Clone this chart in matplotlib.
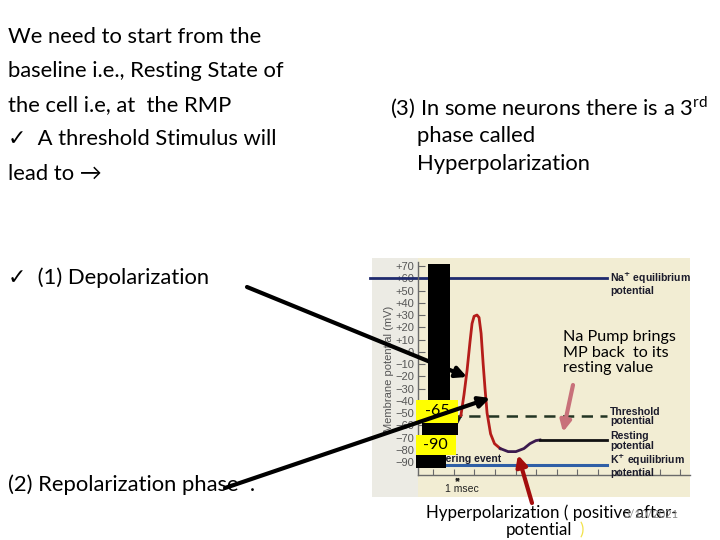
import matplotlib
matplotlib.use("Agg")
import matplotlib.pyplot as plt
from matplotlib.patches import Rectangle, FancyArrowPatch

# ---------------- data ----------------
yticks_mv = [70, 60, 50, 40, 30, 20, 10, 0, -10, -20, -30, -40, -50, -60, -70, -80, -90]
ytick_labels = ["+70", "+60", "+50", "+40", "+30", "+20", "+10", "0", "\u221210", "\u221220",
                "\u221230", "\u221240", "\u221250", "\u221260", "\u221270", "\u221280", "\u221290"]
xticks_ms = list(range(1, 14))

# action potential trace (time in ms, potential in mV)
pre_t = [1.24, 1.63, 1.92, 2.16, 2.35]
pre_v = [-72, -70, -65, -58, -52]
spike_t = [2.35, 2.50, 2.65, 2.79, 2.89, 2.99, 3.13, 3.23, 3.33, 3.43, 3.52, 3.62, 3.79, 3.98, 4.26]
spike_v = [-52, -35, -15, 8, 23, 29, 30, 28, 15, -10, -30, -50, -67, -75, -79]
hyper_t = [4.26, 4.64, 5.02, 5.41, 5.70, 5.99, 6.19]
hyper_v = [-79, -81.5, -81.5, -79, -75, -72.5, -72]
rest_t = [6.19, 9.44]
rest_v = [-72, -72]

na_eq = 60.2
k_eq = -92.4
threshold = -52.4
na_span = [-2.05, 9.44]
k_span = [1.3, 9.44]
thr_span = [1.8, 9.44]

left_lines = ["We need to start from the",
              "baseline i.e., Resting State of",
              "the cell i.e, at  the RMP",
              "\u2713  A threshold Stimulus will",
              "lead to \u2192"]
right_lines = ["phase called", "Hyperpolarization"]

# ---------------- figure ----------------
W, H = 720, 540
fig = plt.figure(figsize=(7.2, 5.4), dpi=100)
fig.patch.set_facecolor("white")

def fx(x):
    return x / W

def fy(y):
    return 1 - y / H

SLIDE = ["Lato", "DejaVu Sans"]
HELV = ["Liberation Sans", "DejaVu Sans"]
FS = 15.8

# slide text
for i, s in enumerate(left_lines):
    fig.text(fx(8), fy(36.5 + i * 34.3), s, fontsize=FS, family=SLIDE, va="center", ha="left")

fig.text(fx(390), fy(107), "(3) In some neurons there is a 3$^{\\mathregular{rd}}$",
         fontsize=FS, family=SLIDE, va="center", ha="left")
fig.text(fx(417), fy(136), right_lines[0], fontsize=FS, family=SLIDE, va="center", ha="left")
fig.text(fx(417), fy(164), right_lines[1], fontsize=FS, family=SLIDE, va="center", ha="left")

fig.text(fx(8), fy(278), "\u2713  (1) Depolarization", fontsize=FS, family=SLIDE, va="center", ha="left")
fig.text(fx(8), fy(485), "(2) Repolarization phase  .", fontsize=FS, family=SLIDE, va="center", ha="left")

# embedded picture panel
pan = fig.add_axes([fx(372), fy(497), (690 - 372) / W, (497 - 258) / H])
pan.set_facecolor("#f2edd3")
pan.set_xticks([]); pan.set_yticks([])
for sp in pan.spines.values():
    sp.set_visible(False)
pan.set_zorder(0)
fig.add_artist(Rectangle((fx(372), fy(497)), (418 - 372) / W, (497 - 258) / H,
                         transform=fig.transFigure, facecolor="#ecebe4", edgecolor="none", zorder=1))

# chart axes
ax = fig.add_axes([fx(418), fy(475), (690 - 418) / W, (475 - 262) / H])
ax.set_zorder(2)
ax.set_facecolor("none")
ax.set_xlim(0.267, 13.47)
ax.set_ylim(-100.6, 73.3)
for s in ["top", "right"]:
    ax.spines[s].set_visible(False)
for s in ["left", "bottom"]:
    ax.spines[s].set_color("#6a6a6a")
    ax.spines[s].set_linewidth(1.0)
ax.set_yticks(yticks_mv)
ax.set_yticklabels(ytick_labels, family=HELV, fontsize=8, color="#555555")
ax.set_xticks(xticks_ms)
ax.set_xticklabels([])
ax.tick_params(axis="y", direction="in", length=5, color="#6a6a6a", pad=3)
ax.tick_params(axis="x", direction="in", length=4, color="#6a6a6a")
ax.set_ylabel("Membrane potential (mV)", family=HELV, fontsize=8, color="#555555", labelpad=1)

ax.plot(na_span, [na_eq, na_eq], color="#1f2a6e", lw=2.0, clip_on=False, zorder=2)
ax.plot(k_span, [k_eq, k_eq], color="#2f5fa6", lw=2.2, zorder=2)
ax.plot(thr_span, [threshold, threshold], color="#233523", lw=1.8, dashes=(4.5, 3), zorder=2)
ax.plot(pre_t, pre_v, color="#1a1a1a", lw=2.0, zorder=3)
ax.plot(spike_t, spike_v, color="#b51d1a", lw=2.0, zorder=3)
ax.plot(hyper_t, hyper_v, color="#3b1a4e", lw=2.0, zorder=3)
ax.plot(rest_t, rest_v, color="#111111", lw=2.0, zorder=3)

lab_kw = dict(family=HELV, fontsize=7.6, fontweight="bold", color="#1c1c2c", va="center", ha="left",
              linespacing=0.95)
ax.text(9.6, na_eq - 4.5, "Na$^{\\mathbf{+}}$ equilibrium\npotential", **lab_kw)
ax.text(9.6, threshold - 0.5, "Threshold\npotential", **lab_kw)
ax.text(9.6, -73, "Resting\npotential", **lab_kw)
ax.text(9.6, -93, "K$^{\\mathbf{+}}$ equilibrium\npotential", **lab_kw)
ax.text(0.35, -87.5, "Triggering event", family=HELV, fontsize=7.5, fontweight="bold",
        color="#1c1c2c", va="center", ha="left")

ax.text(2.4, -112, "1 msec", family=HELV, fontsize=7.5, color="#222222", va="center", ha="center",
        clip_on=False)
ax.annotate("", xy=(1.92, -104.5), xytext=(2.45, -104.5), annotation_clip=False,
            arrowprops=dict(arrowstyle="<->", color="#222222", lw=0.8, mutation_scale=5))

ax.text(7.30, 17.5, "Na Pump brings\nMP back  to its\nresting value", family=SLIDE, fontsize=11.6,
        va="top", ha="left", linespacing=1.12, zorder=6)

# overlay boxes (black bars and yellow labels)
def frect(x0, y0, x1, y1, color, z=7):
    fig.add_artist(Rectangle((fx(x0), fy(y1)), (x1 - x0) / W, (y1 - y0) / H,
                             transform=fig.transFigure, facecolor=color, edgecolor="none", zorder=z))

frect(428, 264, 450, 400, "black")
frect(422, 423, 458, 435, "black")
frect(416, 454, 446, 468, "black")
frect(416, 400, 458, 423, "#ffff00")
frect(416, 435, 456, 455, "#ffff00")
fig.text(fx(437), fy(411), "-65", family=SLIDE, fontsize=11.5, ha="center", va="center", zorder=8)
fig.text(fx(435), fy(445), "-90", family=SLIDE, fontsize=11.5, ha="center", va="center", zorder=8)

# arrows in figure pixel coordinates
def farrow(x0, y0, x1, y1, color, lw=3.0, ms=16):
    a = FancyArrowPatch((fx(x0), fy(y0)), (fx(x1), fy(y1)), transform=fig.transFigure,
                        arrowstyle="-|>", mutation_scale=ms, color=color, lw=lw, zorder=9,
                        shrinkA=0, shrinkB=0)
    fig.add_artist(a)

farrow(247, 287, 467, 377, "black")
farrow(225, 488, 490, 398, "black")
farrow(573, 385, 563, 432, "#c8717a")
farrow(532, 503, 518, 455, "#a30d0d")

# bottom caption
fig.text(fx(552), fy(513), "Hyperpolarization ( positive after-", family=SLIDE, fontsize=12.2,
         ha="center", va="center", zorder=10)
fig.text(fx(539), fy(530), "potential", family=SLIDE, fontsize=12.2, ha="center", va="center", zorder=10)
fig.text(fx(582), fy(530), ")", family=SLIDE, fontsize=12.2, color="#f2e24a", ha="center", va="center",
         zorder=10)
fig.text(fx(651), fy(515), "3/10/2021", family=SLIDE, fontsize=8, color="#8a8a8a", ha="center",
         va="center", zorder=10)

fig.savefig("out.png", dpi=100)
